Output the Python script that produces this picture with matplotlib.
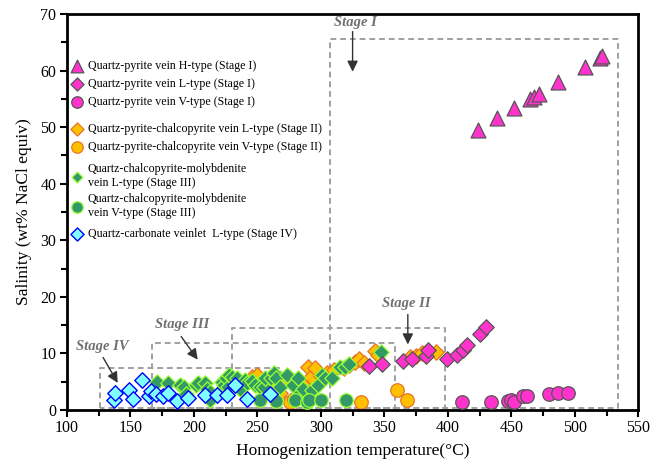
import matplotlib
matplotlib.use("Agg")
import matplotlib.pyplot as plt
from matplotlib.legend import Legend
from matplotlib.ticker import MultipleLocator

plt.rcParams['font.family'] = ['Liberation Serif', 'DejaVu Serif']

# Stage I - quartz-pyrite vein
h1_temp = [424, 439, 452, 465, 468, 472, 487, 508, 519.5, 521.5]
h1_sal = [49.5, 51.7, 53.3, 55.0, 55.3, 55.9, 57.9, 60.7, 62.2, 62.5]
l1_temp = [338, 348, 365, 372, 383, 384, 399, 407, 412, 415, 425, 430]
l1_sal = [7.8, 8.2, 8.6, 9.0, 9.5, 10.6, 9.1, 9.7, 10.7, 11.5, 13.5, 14.6]
v1_temp = [411, 434, 447, 450, 452, 459, 462, 480, 487, 495]
v1_sal = [1.5, 1.5, 1.6, 1.8, 1.5, 2.4, 2.4, 2.9, 3.1, 3.1]

# Stage II - quartz-pyrite-chalcopyrite vein
l2_temp = [246, 250, 256, 262, 268, 272, 276, 281, 285, 290, 292, 295, 300,
           305, 310, 318, 322, 327, 330, 334, 343, 345, 370, 375, 380, 391]
l2_sal = [5.9, 6.2, 5.0, 4.5, 3.0, 5.5, 5.6, 3.8, 4.6, 7.7, 5.9, 7.4, 6.0,
          6.5, 7.0, 7.5, 8.0, 8.5, 9.1, 8.3, 10.4, 9.8, 9.3, 9.5, 10.1, 10.2]
v2_temp = [276, 279, 332, 360, 368]
v2_sal = [1.5, 2.0, 1.4, 3.6, 1.8]

# Stage III - quartz-chalcopyrite-molybdenite vein
l3_temp = [171, 180, 189, 192, 194, 202, 203, 209, 210, 213, 213, 222, 224,
           225, 227, 228, 230, 234, 236, 240, 242, 246, 248, 252, 255, 256,
           261, 263, 265, 268, 273, 278, 282, 283, 286, 293, 298, 301, 303,
           309, 315, 319, 322, 347]
l3_sal = [5.0, 4.7, 4.4, 4.1, 2.9, 4.4, 4.7, 4.8, 3.8, 3.2, 1.8, 5.0, 4.4,
          5.7, 4.1, 6.2, 5.9, 5.6, 3.8, 5.3, 4.7, 5.2, 4.4, 4.0, 4.1, 5.6,
          5.6, 6.5, 5.6, 4.1, 6.2, 4.4, 5.6, 2.9, 3.8, 3.5, 4.4, 6.2, 5.6,
          5.6, 7.7, 7.7, 8.1, 10.3]
v3_temp = [252, 265, 280, 289, 291, 300, 320]
v3_sal = [1.8, 1.6, 1.8, 1.5, 1.7, 1.8, 1.8]

# Stage IV - quartz-carbonate veinlet
l4_temp = [137, 138, 149, 152, 159, 165, 166, 170, 176, 180, 187, 195,
           209, 218, 226, 232, 242, 260]
l4_sal = [1.8, 3.0, 3.6, 2.0, 5.3, 2.5, 3.4, 2.8, 2.4, 3.1, 1.6, 2.1,
          2.7, 2.6, 2.7, 4.4, 1.9, 2.9]

# stage fields: (name, tmin, tmax, salinity max)
stage_names = ['Stage I', 'Stage II', 'Stage III', 'Stage IV']
box_tmin = [307, 230, 167, 126]
box_tmax = [534, 398, 358, 269]
box_smax = [65.6, 14.5, 11.8, 7.4]
# label position and arrow end for each field
label_xy = [(327, 68.5), (367, 18.9), (191, 15.2), (128, 11.3)]
arrow_from = [(325, 66.9), (368.5, 16.9), (190, 13.0), (128.5, 9.3)]
arrow_to = [(325, 59.8), (368.5, 11.6), (203, 8.9), (140, 4.8)]

pink = '#ff33cc'
fig = plt.figure(figsize=(6.56, 4.66), dpi=100)
ax = fig.add_axes([0.102, 0.120, 0.871, 0.850])

for t0, t1, s1 in zip(box_tmin, box_tmax, box_smax):
    ax.plot([t0, t0, t1, t1, t0], [0.3, s1, s1, 0.3, 0.3], ls=(0, (3, 2)),
            lw=1.4, color='#a0a0a0', zorder=1)

for name, (lx, ly), p0, p1 in zip(stage_names, label_xy, arrow_from, arrow_to):
    ax.text(lx, ly, name, ha='center', va='center', fontsize=10.5,
            fontweight='bold', fontstyle='italic', color='#707070')
    ax.annotate('', xy=p1, xytext=p0,
                arrowprops=dict(arrowstyle='-|>', color='#333333', lw=1,
                                mutation_scale=16, shrinkA=0, shrinkB=0))

sd, so, st = 62, 95, 115
series = [
    (h1_temp, h1_sal, '^', st, pink, '#555555', 6,
     'Quartz-pyrite vein H-type (Stage I)'),
    (l1_temp, l1_sal, 'D', sd, pink, '#555555', 6,
     'Quartz-pyrite vein L-type (Stage I)'),
    (v1_temp, v1_sal, 'o', so, pink, '#555555', 6,
     'Quartz-pyrite vein V-type (Stage I)'),
    (l2_temp, l2_sal, 'D', sd, '#ffc000', '#e8742a', 2,
     'Quartz-pyrite-chalcopyrite vein L-type (Stage II)'),
    (v2_temp, v2_sal, 'o', so, '#ffc000', '#e8742a', 2,
     'Quartz-pyrite-chalcopyrite vein V-type (Stage II)'),
    (l3_temp, l3_sal, 'D', sd, '#339966', '#99ff33', 3,
     'Quartz-chalcopyrite-molybdenite\nvein L-type (Stage III)'),
    (v3_temp, v3_sal, 'o', so, '#339966', '#99ff33', 3,
     'Quartz-chalcopyrite-molybdenite\nvein V-type (Stage III)'),
    (l4_temp, l4_sal, 'D', sd, '#80ffff', '#0000ff', 4,
     'Quartz-carbonate veinlet  L-type (Stage IV)'),
]
handles = []
for xs, ys, m, s, fc, ec, z, lab in series:
    h = ax.scatter(xs, ys, marker=m, s=s, c=fc, edgecolors=ec,
                   linewidths=0.9 if ec != '#0000ff' else 1.0, zorder=z,
                   label=lab)
    handles.append(h)

# one legend per entry so the stage groups keep their own spacing
entry_y = [0.869, 0.823, 0.778, 0.709, 0.664, 0.591, 0.515, 0.444]
entry_scale = [0.85, 0.85, 0.85, 0.85, 0.85, 0.7, 0.85, 0.85]
for h, ey, ms in zip(handles, entry_y, entry_scale):
    lg = Legend(ax, [h], [h.get_label()], loc='center left',
                bbox_to_anchor=(0.007, ey), frameon=False, fontsize=8.6,
                handlelength=1.0, handletextpad=0.43, borderpad=0,
                borderaxespad=0, markerscale=ms)
    ax.add_artist(lg)

ax.set_xlim(100, 550)
ax.set_ylim(0, 70)
ax.xaxis.set_major_locator(MultipleLocator(50))
ax.xaxis.set_minor_locator(MultipleLocator(25))
ax.yaxis.set_major_locator(MultipleLocator(10))
ax.yaxis.set_minor_locator(MultipleLocator(5))
ax.tick_params(which='both', direction='out', width=1.5, labelsize=11.5, pad=2.5)
ax.tick_params(which='major', length=5)
ax.tick_params(which='minor', length=4)
for sp in ax.spines.values():
    sp.set_linewidth(2)

ax.set_xlabel('Homogenization temperature(°C)', fontsize=12.5, labelpad=5)
ax.set_ylabel('Salinity (wt% NaCl equiv)', fontsize=12.5, labelpad=6)

fig.savefig('out.png', dpi=100)
